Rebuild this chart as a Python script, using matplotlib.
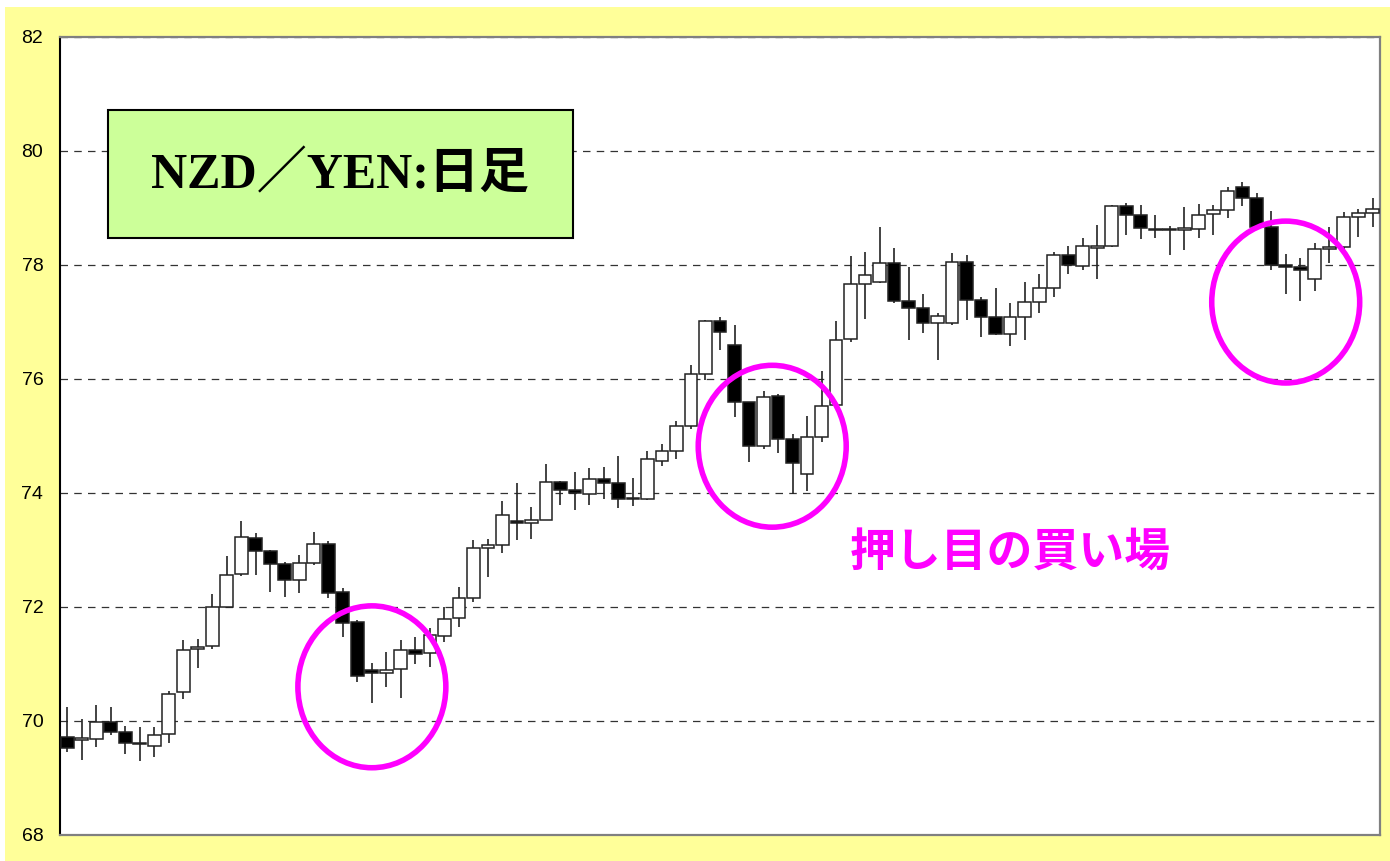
import matplotlib
matplotlib.use("Agg")
import matplotlib.pyplot as plt
from matplotlib.patches import Ellipse, Rectangle
import numpy as np

# ---- data ----
opens = [69.72, 69.66, 69.68, 69.99, 69.81, 69.59, 69.56, 69.78, 70.50, 71.26,
         71.32, 72.00, 72.58, 73.21, 72.98, 72.76, 72.47, 72.78, 73.11, 72.27,
         71.74, 70.90, 70.84, 70.92, 71.25, 71.20, 71.49, 71.80, 72.16, 73.04,
         73.08, 73.50, 73.48, 73.53, 74.20, 74.05, 73.98, 74.24, 74.17, 73.89,
         73.90, 74.57, 74.74, 75.18, 76.08, 77.02, 76.60, 75.60, 74.83, 75.70,
         74.95, 74.33, 74.98, 75.54, 76.71, 77.66, 77.70, 78.04, 77.37, 77.25,
         76.99, 76.99, 78.05, 77.39, 77.09, 76.79, 77.09, 77.35, 77.60, 78.18,
         77.99, 78.30, 78.34, 79.04, 78.88, 78.64, 78.61, 78.62, 78.63, 78.89,
         78.96, 79.37, 79.17, 78.66, 78.00, 77.97, 77.76, 78.28, 78.32, 78.84,
         78.91]
highs = [70.25, 70.03, 70.28, 70.25, 69.91, 69.90, 69.90, 70.53, 71.42, 71.44,
         72.23, 72.89, 73.51, 73.30, 73.00, 72.79, 72.91, 73.32, 73.16, 72.33,
         71.77, 71.01, 71.21, 71.42, 71.48, 71.63, 72.00, 72.35, 73.18, 73.20,
         73.86, 74.18, 73.75, 74.51, 74.21, 74.37, 74.43, 74.46, 74.65, 74.27,
         74.74, 74.86, 75.27, 76.25, 77.04, 77.09, 76.95, 75.60, 75.79, 75.74,
         75.04, 75.35, 76.14, 77.02, 78.16, 78.23, 78.66, 78.29, 77.97, 77.49,
         77.16, 78.21, 78.18, 77.43, 77.59, 77.34, 77.70, 77.85, 78.23, 78.33,
         78.48, 78.70, 79.05, 79.09, 79.05, 78.88, 78.68, 79.01, 79.07, 79.05,
         79.36, 79.46, 79.27, 78.95, 78.19, 78.13, 78.39, 78.66, 78.93, 78.99,
         79.17]
lows = [69.45, 69.32, 69.54, 69.75, 69.42, 69.30, 69.37, 69.61, 70.39, 70.93,
        71.26, 71.98, 72.54, 72.56, 72.27, 72.18, 72.25, 72.74, 72.15, 71.48,
        70.69, 70.31, 70.60, 70.41, 71.00, 70.95, 71.39, 71.65, 72.09, 72.53,
        72.95, 73.18, 73.20, 73.52, 73.79, 73.70, 73.79, 73.89, 73.74, 73.77,
        73.88, 74.47, 74.59, 75.13, 75.99, 76.51, 75.34, 74.55, 74.78, 74.70,
        73.98, 74.04, 74.90, 75.53, 76.65, 77.06, 77.68, 77.34, 76.68, 76.81,
        76.33, 76.95, 77.04, 76.73, 76.77, 76.58, 76.68, 77.16, 77.44, 77.85,
        77.91, 77.75, 78.32, 78.53, 78.46, 78.47, 78.18, 78.26, 78.48, 78.53,
        78.82, 79.03, 78.62, 77.91, 77.49, 77.37, 77.55, 78.04, 78.18, 78.49,
        78.66]
closes = [69.53, 69.70, 69.98, 69.81, 69.61, 69.61, 69.76, 70.48, 71.25, 71.30,
          72.00, 72.56, 73.22, 72.98, 72.76, 72.47, 72.77, 73.11, 72.25, 71.72,
          70.79, 70.84, 70.90, 71.25, 71.18, 71.50, 71.79, 72.16, 73.04, 73.09,
          73.61, 73.47, 73.53, 74.20, 74.05, 74.00, 74.25, 74.17, 73.89, 73.91,
          74.60, 74.74, 75.18, 76.08, 77.02, 76.83, 75.60, 74.83, 75.69, 74.95,
          74.52, 74.98, 75.53, 76.69, 77.66, 77.82, 78.04, 77.36, 77.25, 76.98,
          77.11, 78.05, 77.39, 77.09, 76.79, 77.09, 77.35, 77.60, 78.18, 78.00,
          78.33, 78.34, 79.04, 78.88, 78.65, 78.61, 78.62, 78.65, 78.88, 78.96,
          79.30, 79.17, 78.66, 78.00, 77.97, 77.91, 78.28, 78.32, 78.84, 78.91,
          78.99]

y_ticks = [68, 70, 72, 74, 76, 78, 80, 82]
title_text = "NZD／YEN:日足"
note_text = "押し目の買い場"
# highlighted zones: (center index, center price)
zones_x = [21.0, 48.6, 84.0]
zones_y = [70.60, 74.82, 77.35]

# ---- figure ----
fig = plt.figure(figsize=(13.9, 8.61), dpi=100, facecolor="white")
fig.add_artist(Rectangle((5/1390, 0), 1385/1390, 854/861,
                         transform=fig.transFigure, facecolor="#FFFF99",
                         edgecolor="none", zorder=0))
ax = fig.add_axes([60/1390, 1-835/861, 1320/1390, 798/861])
ax.set_facecolor("white")

n = len(opens)
x = np.arange(n)
o = np.array(opens); c = np.array(closes); h = np.array(highs); l = np.array(lows)

ax.vlines(x, l, h, color="#222222", linewidth=1.2, zorder=2)
bottom = np.minimum(o, c)
height = np.maximum(np.abs(c - o), 0.025)
colors = ["black" if cc < oo else "white" for oo, cc in zip(o, c)]
ax.bar(x, height, bottom=bottom, width=0.88, color=colors,
       edgecolor="#222222", linewidth=1.1, zorder=3)

ax.set_xlim(-0.5, n - 0.5)
ax.set_ylim(68, 82)
ax.set_yticks(y_ticks)
ax.set_yticklabels([str(t) for t in y_ticks], fontsize=14,
                   family=["Liberation Sans", "DejaVu Sans"])
ax.set_xticks([])
ax.tick_params(axis="y", direction="out", length=0, pad=12)
ax.yaxis.grid(True, linestyle=(0, (6, 5)), color="#333333", linewidth=0.9)
ax.set_axisbelow(True)
for s in ["top", "right", "bottom"]:
    ax.spines[s].set_color("#808080")
    ax.spines[s].set_linewidth(1.6)
ax.spines["left"].set_color("black")
ax.spines["left"].set_linewidth(1.5)

for zx, zy in zip(zones_x, zones_y):
    ax.add_patch(Ellipse((zx, zy), width=10.2, height=2.84, fill=False,
                         edgecolor="#FF00FF", linewidth=4.0, zorder=5))

ax.text(65.0, 72.95, note_text, color="#FF00FF", fontsize=33,
        fontweight="bold", ha="center", va="center",
        family=["Noto Sans CJK JP", "DejaVu Sans"], zorder=6)

# title box
fig.add_artist(Rectangle((108/1390, 1-238/861), 465/1390, 128/861,
                         transform=fig.transFigure, facecolor="#CCFF99",
                         edgecolor="black", linewidth=1.5, zorder=10))
fig.text(340/1390, 1-176/861, title_text, fontsize=36, fontweight="bold",
         ha="center", va="center",
         family=["Liberation Serif", "Noto Sans CJK JP"], zorder=11)

fig.savefig("out.png", dpi=100, facecolor=fig.get_facecolor())
